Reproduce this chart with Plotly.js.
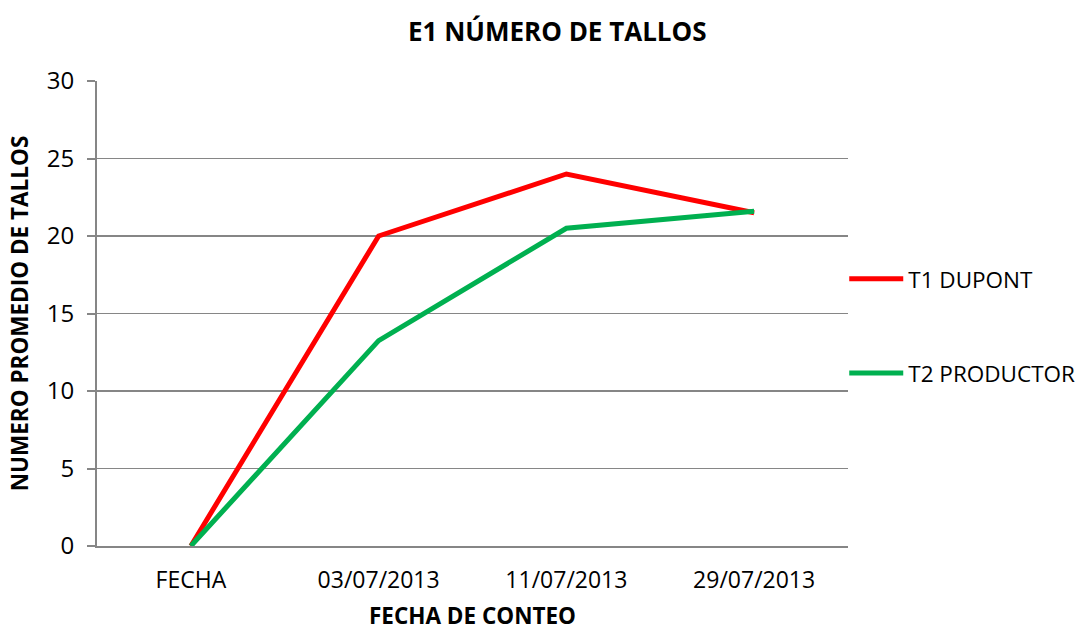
<!DOCTYPE html>
<html>
<head>
<meta charset="utf-8">
<script src="https://cdn.plot.ly/plotly-3.0.1.min.js"></script>
<style>html,body{margin:0;padding:0;background:#fff;}#chart{width:1080px;height:631px;}</style>
</head>
<body>
<div id="chart"></div>
<script>
const categories = ["FECHA", "03/07/2013", "11/07/2013", "29/07/2013"];
const t1Values = [0, 20, 24, 21.5];
const t2Values = [0, 13.25, 20.5, 21.6];
const seriesNames = ["T1 DUPONT", "T2 PRODUCTOR"];
const yTicks = [0, 5, 10, 15, 20, 25, 30];

const font = "Open Sans, Noto Sans, sans-serif";
const traces = [
  {x: categories, y: t1Values, name: seriesNames[0], type: "scatter", mode: "lines",
   line: {color: "#FF0000", width: 5}, legendgroup: "a"},
  {x: categories, y: t2Values, name: seriesNames[1], type: "scatter", mode: "lines",
   line: {color: "#00B050", width: 5}, legendgroup: "b"}
];
const layout = {
  width: 1080, height: 631,
  margin: {l: 97, r: 232, t: 81, b: 85, autoexpand: false},
  paper_bgcolor: "#fff", plot_bgcolor: "#fff",
  font: {family: font, size: 23, color: "#000"},
  title: {text: "<b>E1 NÚMERO DE TALLOS</b>", x: 0.516, xanchor: "center", y: 0.95, yanchor: "middle",
          font: {family: font, size: 26, color: "#000"}},
  xaxis: {type: "category", range: [-0.5, 3.5], showgrid: false, showline: true, linecolor: "#868686", linewidth: 2,
          ticks: "", tickfont: {size: 23}, zeroline: false, ticklabelstandoff: 12,
          title: {text: "<b>FECHA DE CONTEO</b>", font: {size: 22.5}, standoff: 28}},
  yaxis: {range: [0, 30], tickvals: yTicks, showgrid: true, gridcolor: "#868686", gridwidth: 1.3,
          showline: true, linecolor: "#868686", linewidth: 2, ticks: "outside", ticklen: 8, tickcolor: "#868686", tickwidth: 2,
          zeroline: false, tickfont: {size: 24}, ticklabelstandoff: 8,
          title: {text: "<b>NUMERO PROMEDIO DE TALLOS</b>", font: {size: 22.5}, standoff: 12}},
  showlegend: true,
  legend: {x: 0.995, xanchor: "left", y: 0.62, yanchor: "top", traceorder: "grouped", tracegroupgap: 62,
           font: {size: 22.5}, bgcolor: "rgba(0,0,0,0)", itemwidth: 54}
};
Plotly.newPlot("chart", traces, layout, {displayModeBar: false, staticPlot: true});
</script>
</body>
</html>
